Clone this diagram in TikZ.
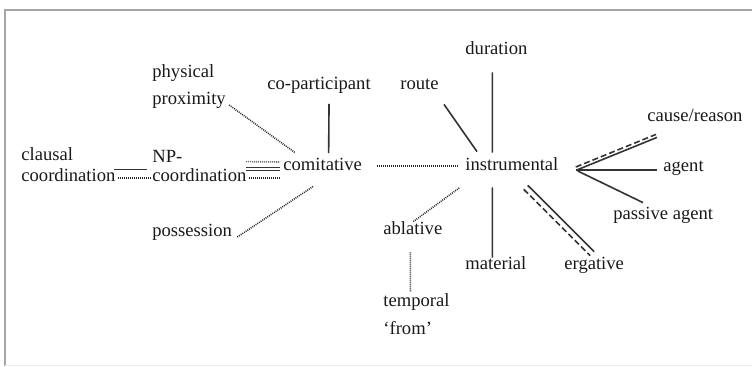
\documentclass[tikz,border=0pt]{standalone}
\usepackage{fontspec}
\setmainfont{Liberation Serif}
\begin{document}
\begin{tikzpicture}[x=0.5pt,y=-0.5pt,
		lbl/.style={anchor=west,inner sep=0pt,text height=6.5pt,text depth=2pt,text=black!90,font=\fontsize{9.3}{11}\selectfont},
		solidline/.style={draw=black!80,line width=0.8pt},
		dotline/.style={draw=black!85,line width=0.8pt,dash pattern=on 0.45pt off 0.55pt},
		dashline/.style={draw=black!80,line width=0.8pt,dash pattern=on 3pt off 1.5pt}]
		\useasboundingbox (0,0) rectangle (752,366);
		\draw[gray!70,line width=1pt](752,10)--(5,10)--(5,366);
		\draw[gray!15,line width=0.5pt](5,365)--(752,365);
	
		\node[lbl] (phys) at (152,73) {physical};
		\node[lbl] (prox) at (152,100) {proximity};
		\node[lbl] (copart) at (267,85) {co-participant};
		\node[lbl] (route) at (400,85) {route};
		\node[lbl] (dur) at (465,50) {duration};
		\node[lbl] (cause) at (647,117) {cause/reason};
	
		\node[lbl] (clausal) at (21,156) {clausal};
		\node[lbl] (coordL) at (21,177) {coordination};
		\node[lbl] (np) at (152,158) {NP-};
		\node[lbl] (coordR) at (152,177) {coordination};
		\node[lbl] (comit) at (283,166) {comitative};
		\node[lbl] (instr) at (465,166) {instrumental};
		\node[lbl] (agent) at (663,167) {agent};
		\node[lbl] (passive) at (613,215) {passive agent};
	
		\node[lbl] (poss) at (152,232) {possession};
		\node[lbl] (abl) at (383,230) {ablative};
		\node[lbl] (mat) at (465,265) {material};
		\node[lbl] (erg) at (564,265) {ergative};
		\node[lbl] (temp) at (383,302) {temporal};
		\node[lbl] (from) at (383,330) {`from'};
	
		\draw[solidline]([shift={(-2,1.5)}]coordL.north east)--([shift={(-5,1.5)}]coordR.north west);
		\draw[dotline]([shift={(2,1)}]coordL.east)--([shift={(-2,1)}]coordR.west);
	
		\draw[dotline]([shift={(-1,-6.5)}]coordR.north east)--([shift={(-3,-4)}]comit.west);
		\draw[solidline,double=white,double distance=0.8pt]([shift={(-1,-8)}]coordR.east)--([shift={(-3,3)}]comit.west);
		\draw[dotline]([shift={(2,1)}]coordR.east)--([shift={(-3,12)}]comit.west);
	
		\draw[dotline]([shift={(3,5)}]prox.east)--([shift={(12,-4.5)}]comit.north west);
		\draw[solidline]([shift={(10,10)}]copart.south)--([shift={(6,-4)}]comit.north);
		\draw[dotline]([shift={(5,5)}]poss.east)--([shift={(-9.5,11.5)}]comit.south);
		\draw[dotline]([shift={(15,0)}]comit.east)--([shift={(-7,0)}]instr.west);
	
		\draw[solidline]([shift={(5,10.5)}]route.south east)--([shift={(12,-5.5)}]instr.north west);
		\draw[solidline]([shift={(-4,13.5)}]dur.south)--([shift={(-19.5,-4.5)}]instr.north);
		\draw[solidline]([shift={(-19.5,12.5)}]instr.south)--([shift={(-3.5,1.5)}]mat.north);
		\draw[dotline]([shift={(0.5,0.5)}]abl.north)--([shift={(-5,12.5)}]instr.south west);
		\draw[dotline]([shift={(-2.5,13.5)}]abl.south)--([shift={(-6,-1.5)}]temp.north);
	
		\draw[solidline]([shift={(-31,10.5)}]instr.south east)--([shift={(0,-4.5)}]erg.north);
		\draw[dashline]([shift={(-35,14.5)}]instr.south east)--([shift={(-4,-0.5)}]erg.north);
	
		\draw[solidline]([shift={(18,4)}]instr.east)--([shift={(10,11.5)}]cause.south west);
		\draw[dashline]([shift={(17,1)}]instr.east)--([shift={(9,8.5)}]cause.south west);
		\draw[solidline]([shift={(17,4)}]instr.east)--([shift={(-6,3)}]agent.west);
		\draw[solidline]([shift={(19,5)}]instr.east)--([shift={(30,-3.5)}]passive.north west);
	\end{tikzpicture}
\end{document}
